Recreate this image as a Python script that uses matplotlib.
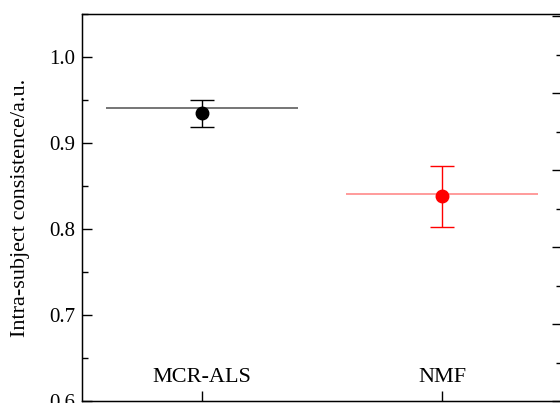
import matplotlib
matplotlib.use("Agg")
import matplotlib.pyplot as plt
from matplotlib.ticker import MultipleLocator

# data
methods = ["MCR-ALS", "NMF"]
means = [0.935, 0.838]
err_low = [0.0164, 0.036]
err_high = [0.0153, 0.035]
ref_levels = [0.9407, 0.8407]
colors = ["black", "red"]
line_colors = ["#505050", "#ff8080"]

plt.rcParams["font.family"] = ["Liberation Serif", "DejaVu Serif"]

fig = plt.figure(figsize=(5.6, 4.03), dpi=100)
# axes are cropped on the right like the original image
ax = fig.add_axes([82 / 560, 2 / 403, 480 / 560, 387 / 403])

xs = [1, 2]
for i in range(len(methods)):
    ax.hlines(ref_levels[i], xs[i] - 0.4, xs[i] + 0.4, color=line_colors[i], lw=1.1, zorder=2)
    ax.errorbar(xs[i], means[i], yerr=[[err_low[i]], [err_high[i]]], fmt="o",
                color=colors[i], ms=9, elinewidth=1.0, capsize=8.5, capthick=1.0, zorder=3)

ax.set_xlim(0.5, 2.5)
ax.set_ylim(0.6, 1.05)
ax.set_xticks(xs)
ax.set_xticklabels(methods, fontsize=16)
ax.yaxis.set_major_locator(MultipleLocator(0.1))
ax.yaxis.set_minor_locator(MultipleLocator(0.05))
ax.yaxis.set_major_formatter(plt.FuncFormatter(lambda v, p: "%.1f" % v))
ax.tick_params(axis="y", which="major", direction="in", length=7, width=1, labelsize=15, pad=5, right=False)
ax.tick_params(axis="y", which="minor", direction="in", length=4, width=1, right=False)
ax.tick_params(axis="x", direction="in", length=7, width=1, pad=-24, top=False)
ax.set_ylabel("Intra-subject consistence/a.u.", fontsize=16)
ax.yaxis.set_label_coords(-0.109, 0.5)
for sp in ax.spines.values():
    sp.set_linewidth(1.0)

# secondary axis on the right, only its ticks are visible
ax2 = ax.twinx()
ax2.set_ylim(0, 387 / 77)
ax2.yaxis.set_major_locator(MultipleLocator(1))
ax2.yaxis.set_minor_locator(MultipleLocator(0.5))
ax2.tick_params(axis="y", which="major", direction="in", length=7, width=1, labelright=False)
ax2.tick_params(axis="y", which="minor", direction="in", length=4, width=1)

fig.savefig("out.png", dpi=100)
